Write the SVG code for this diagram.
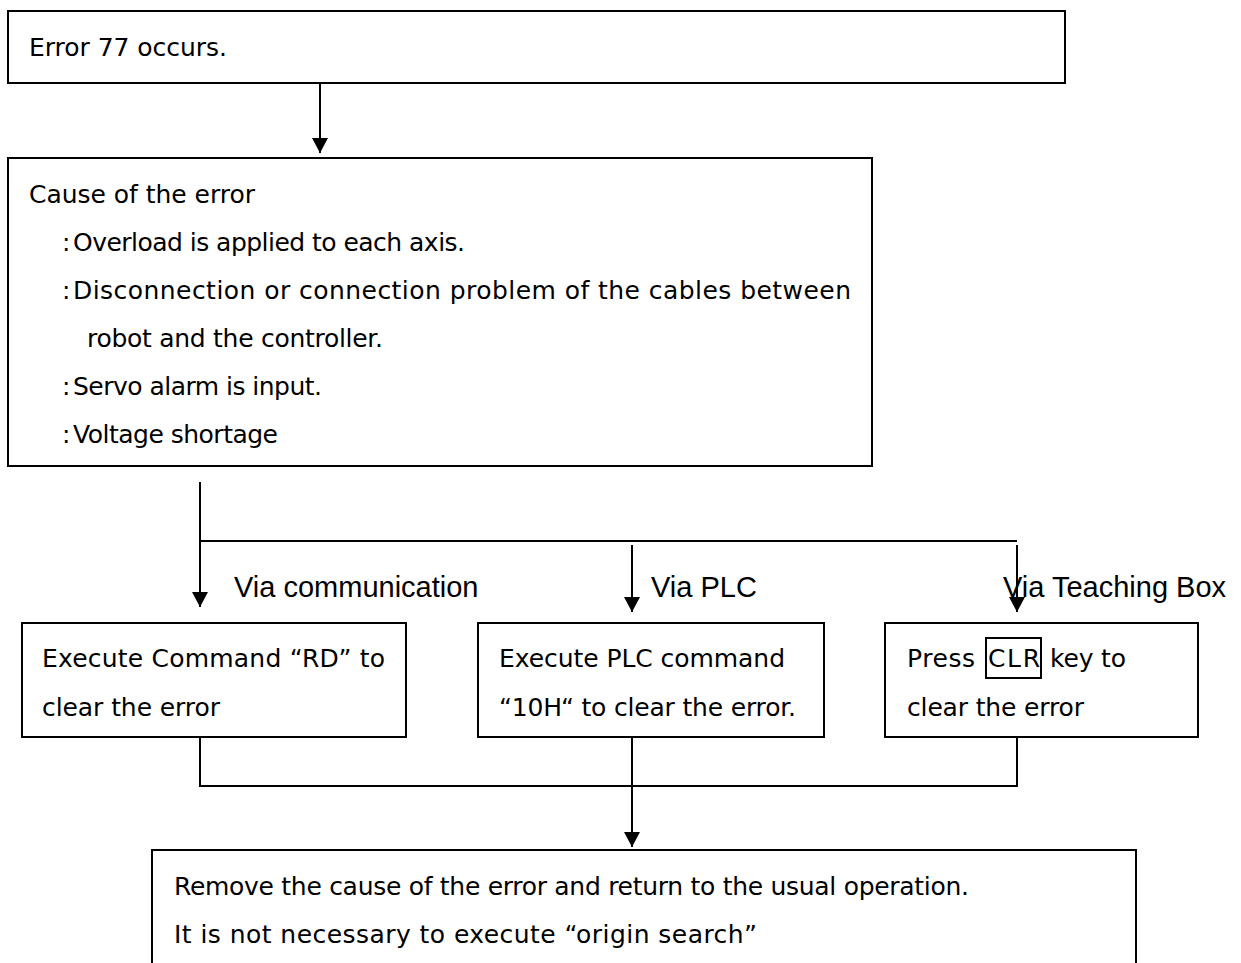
<svg xmlns="http://www.w3.org/2000/svg" width="1241" height="963" viewBox="0 0 1241 963">
<style>
.box{fill:#fff;stroke:#000;stroke-width:2}
.t{font-family:"DejaVu Sans","Liberation Sans",sans-serif;font-size:25px;fill:#000}
.lbl{font-family:"Liberation Sans",Arial,sans-serif;font-size:29px;fill:#000}
.conn{stroke:#000;stroke-width:2;fill:none}
</style>
<defs>
<marker id="arr" markerUnits="userSpaceOnUse" markerWidth="16" markerHeight="16" refX="15" refY="8" orient="auto" viewBox="0 0 16 16">
<path d="M0,0 L15,8 L0,16 z" fill="#000"/>
</marker>
</defs>
<rect width="1241" height="963" fill="#fff"/>

<g id="n-error">
<rect class="box" x="8" y="11" width="1057" height="72"/>
<text class="t" x="29" y="56" textLength="198">Error 77 occurs.</text>
</g>

<g id="n-cause">
<rect class="box" x="8" y="158" width="864" height="308"/>
<text class="t" x="29" y="203" textLength="226">Cause of the error</text>
<text class="t" y="251"><tspan x="62">:</tspan><tspan x="73" textLength="392">Overload is applied to each axis.</tspan></text>
<text class="t" y="299"><tspan x="62">:</tspan><tspan x="73" textLength="778">Disconnection or connection problem of the cables between</tspan></text>
<text class="t" x="87" y="347" textLength="296">robot and the controller.</text>
<text class="t" y="395"><tspan x="62">:</tspan><tspan x="73" textLength="249">Servo alarm is input.</tspan></text>
<text class="t" y="443"><tspan x="62">:</tspan><tspan x="73" textLength="205">Voltage shortage</tspan></text>
</g>

<g id="n-comm">
<rect class="box" x="22" y="623" width="384" height="114"/>
<text class="t" x="42" y="667" textLength="343">Execute Command “RD” to</text>
<text class="t" x="42" y="716" textLength="178">clear the error</text>
</g>

<g id="n-plc">
<rect class="box" x="478" y="623" width="346" height="114"/>
<text class="t" x="499" y="667" textLength="286">Execute PLC command</text>
<text class="t" x="499" y="716" textLength="297">“10H“ to clear the error.</text>
</g>

<g id="n-tb">
<rect class="box" x="885" y="623" width="313" height="114"/>
<text class="t" x="907" y="667" textLength="68">Press</text>
<rect x="986" y="638" width="55" height="40" fill="none" stroke="#000" stroke-width="2"/>
<text class="t" x="988" y="667" textLength="52">CLR</text>
<text class="t" x="1050" y="667" textLength="76">key to</text>
<text class="t" x="907" y="716" textLength="177">clear the error</text>
</g>

<g id="n-remove">
<rect class="box" x="152" y="850" width="984" height="140"/>
<text class="t" x="174" y="895" textLength="795">Remove the cause of the error and return to the usual operation.</text>
<text class="t" x="174" y="943" textLength="583">It is not necessary to execute “origin search”</text>
</g>

<g id="labels">
<text class="lbl" x="234" y="597">Via communication</text>
<text class="lbl" x="651" y="597">Via PLC</text>
<text class="lbl" x="1003" y="597">Via Teaching Box</text>
</g>

<g id="connectors">
<path class="conn" d="M320,84 V153" marker-end="url(#arr)"/>
<path class="conn" d="M200,482 V607" marker-end="url(#arr)"/>
<path class="conn" d="M200,541 H1017"/>
<path class="conn" d="M632,545 V612" marker-end="url(#arr)"/>
<path class="conn" d="M1017,545 V612" marker-end="url(#arr)"/>
<path class="conn" d="M200,738 V786 H1017 V738"/>
<path class="conn" d="M632,738 V847" marker-end="url(#arr)"/>
</g>
</svg>
